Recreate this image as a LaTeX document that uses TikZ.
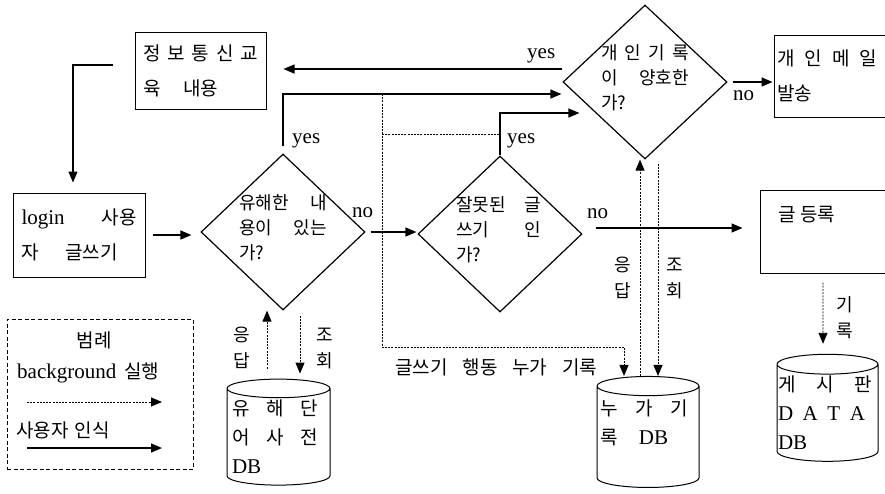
\documentclass[tikz,border=0pt]{standalone}
\usepackage{fontspec}
\setmainfont{Liberation Serif}
\newfontfamily\kr{Noto Sans CJK KR}
\usetikzlibrary{arrows.meta, positioning, shapes.geometric}

\newcommand{\jl}[2]{\makebox[#1][s]{\spaceskip=0.25em plus 1fil\relax #2}}
\newcommand{\en}[1]{{\rmfamily\fontsize{21}{21}\selectfont #1}}
\newcommand{\dtext}[1]{\makebox[0pt]{\smash{\parbox[c]{88pt}{\raggedright #1}}}}

\tikzset{
  flow/.style={line width=1.3pt, -{Triangle[length=11pt,width=9pt]}},
  bgflow/.style={line width=0.9pt, dash pattern=on 2pt off 1.2pt, -{Triangle[length=11pt,width=9pt]}},
  bgline/.style={line width=0.9pt, dash pattern=on 2pt off 1.2pt},
  procbox/.style={draw, line width=1pt, inner sep=0pt, align=left, font=\kr\fontsize{19}{35}\selectfont},
  decision/.style={diamond, draw, line width=1.2pt, inner sep=0pt, font=\kr\fontsize{18}{25}\selectfont},
  dbcan/.style={cylinder, shape border rotate=90, aspect=0.2, draw, line width=1pt, inner sep=0pt, align=left, font=\kr\fontsize{19}{29}\selectfont},
  answer/.style={font=\rmfamily\fontsize{21}{21}\selectfont, inner sep=0pt},
  side/.style={font=\kr\fontsize{18}{26}\selectfont, align=center, inner sep=0pt},
  legtext/.style={font=\kr\fontsize{19}{19}\selectfont, inner sep=0pt},
}

\begin{document}
\begin{tikzpicture}[x=1pt, y=-1pt]
    \useasboundingbox (0,0) rectangle (885,493);

    % 처리 상자
    \node[procbox, minimum width=131pt, minimum height=77pt, text width=115pt] (info) at (200.5,70.5) {\jl{115pt}{정 보 통 신 교}\\\jl{75pt}{육 내용}};
    \node[procbox, minimum width=132pt, minimum height=84pt, text width=115pt] (login) at (79,235) {\jl{115pt}{\en{login} 사용}\\\jl{96pt}{자 글쓰기}};
    \node[procbox, minimum width=121pt, minimum height=82pt, text width=115pt] (mail) at (834.5,76) {\jl{100pt}{개 인 메 일}\\발송};
    \node[procbox, minimum width=135pt, minimum height=83pt, text width=99pt] (post) at (827.5,231.5) {\jl{55pt}{글 등록}\\\mbox{}};

    % 판단
    \node[decision, minimum width=164pt, minimum height=156pt] (harm) at (283,232) {\dtext{\jl{88pt}{유해한 내}\\\jl{88pt}{용이 있는}\\가?}};
    \node[decision, minimum width=164pt, minimum height=156pt] (wrong) at (500,234) {\dtext{\jl{85pt}{잘못된 글}\\\jl{85pt}{쓰기 인}\\가?}};
    \node[decision, minimum width=164pt, minimum height=154pt] (good) at (645,82) {\dtext{\jl{88pt}{개 인 기 록}\\\jl{88pt}{이 양호한}\\가?}};

    % DB
    \node[dbcan, minimum width=103pt, minimum height=106pt, text width=93pt] (dict) at (278.5,437) {\jl{86pt}{유 해 단}\\\jl{86pt}{어 사 전}\\\en{DB}};
    \node[dbcan, minimum width=102pt, minimum height=111pt, text width=96pt] (log) at (648,437) {\jl{88pt}{누 가 기}\\\jl{68pt}{록 \en{DB}}\\\mbox{}};
    \node[dbcan, minimum width=101pt, minimum height=107pt, text width=99pt] (board) at (827.5,413) {\jl{94pt}{게 시 판}\\\jl{87pt}{\en{D A T A}}\\\en{DB}};

    % 사용자 흐름
    \draw[flow, shorten <=22pt, shorten >=10pt] ([yshift=5.5pt]info.west) -| ([xshift=-6pt]login.north);
    \draw[flow, shorten <=7pt, shorten >=9pt] (login.east) -- (login.east -| harm.west);
    \draw[flow, shorten <=7pt, shorten >=1pt] (harm.north) |- ([yshift=-12pt]good.west);
    \draw[flow, shorten >=17pt] ([yshift=13pt]good.west) -- ([yshift=13pt]good.west -| info.east);
    \draw[flow, shorten <=5pt, shorten >=1pt] (harm.east) -- (harm.east -| wrong.west);
    \draw[flow] (wrong.north) |- ([yshift=-31pt, xshift=17pt]good.west);
    \draw[flow, shorten <=13pt, shorten >=17pt] ([yshift=6pt]wrong.east) -- ([yshift=6pt]wrong.east -| post.west);
    \draw[flow, shorten <=5pt, shorten >=1pt] (good.east) -- (good.east -| mail.west);

    \node[answer, anchor=base west] (yes1) at (292,143) {yes};
    \node[answer, anchor=base west] (yes2) at (527,58) {yes};
    \node[answer, anchor=base west] (yes3) at (507,143) {yes};
    \node[answer, anchor=base west] (no1) at (352,217) {no};
    \node[answer, anchor=base west] (no2) at (587,218) {no};
    \node[answer, anchor=base west] (no3) at (733,100) {no};

    % background 실행
    \coordinate (tapA) at (382,94);
    \coordinate (tapB) at (382,134);
    \coordinate (tapC) at (382,347);
    \draw[bgflow] (tapA) -- (tapC) -| ([xshift=-24pt]log.north);
    \draw[bgline] (tapB) -- (tapB -| wrong.north);
    \node[legtext, anchor=base west] (logtext) at (395,374) {\jl{202pt}{글쓰기 행동 누가 기록}};

    \draw[bgflow] ([xshift=-8pt]log.north) -- ([xshift=-8pt]log.north |- good.south);
    \draw[bgflow, shorten <=4pt] ([xshift=10pt]log.north |- good.south) -- ([xshift=10pt]log.north);
    \node[side] (resp2) at (623,278) {응\\답};
    \node[side] (query2) at (675,278) {조\\회};

    \draw[bgflow, shorten <=10pt] ([xshift=-11.5pt]dict.north) -- ([xshift=-11.5pt]dict.north |- harm.south);
    \draw[bgflow, shorten <=5pt, shorten >=5pt] ([xshift=21.5pt]dict.north |- harm.south) -- ([xshift=21.5pt]dict.north);
    \node[side] (resp1) at (242,348) {응\\답};
    \node[side] (query1) at (325,348) {조\\회};

    \draw[bgflow, shorten <=9pt, shorten >=10pt] ([xshift=-4.5pt]post.south) -- ([xshift=-4.5pt]board.north);
    \node[side] (write) at (845,318) {기\\록};

    % 범례
    \node[draw, line width=0.8pt, dash pattern=on 4pt off 2.5pt, minimum width=186pt, minimum height=150pt] (legend) at (100,394) {};
    \node[legtext] (legtitle) at (94,340) {범례};
    \node[anchor=base west, inner sep=0pt] (bgtext) at (17,378) {\en{background}\hspace{8pt}{\kr\fontsize{19}{19}\selectfont 실행}};
    \node[legtext, anchor=west] (uitext) at (16,430) {사용자\hspace{6pt}인식};
    \coordinate (bgA) at (27,402);
    \coordinate (bgB) at (162,402);
    \coordinate (uiA) at (27,448);
    \coordinate (uiB) at (162,448);
    \draw[bgflow] (bgA) -- (bgB);
    \draw[flow] (uiA) -- (uiB);
\end{tikzpicture}
\end{document}
